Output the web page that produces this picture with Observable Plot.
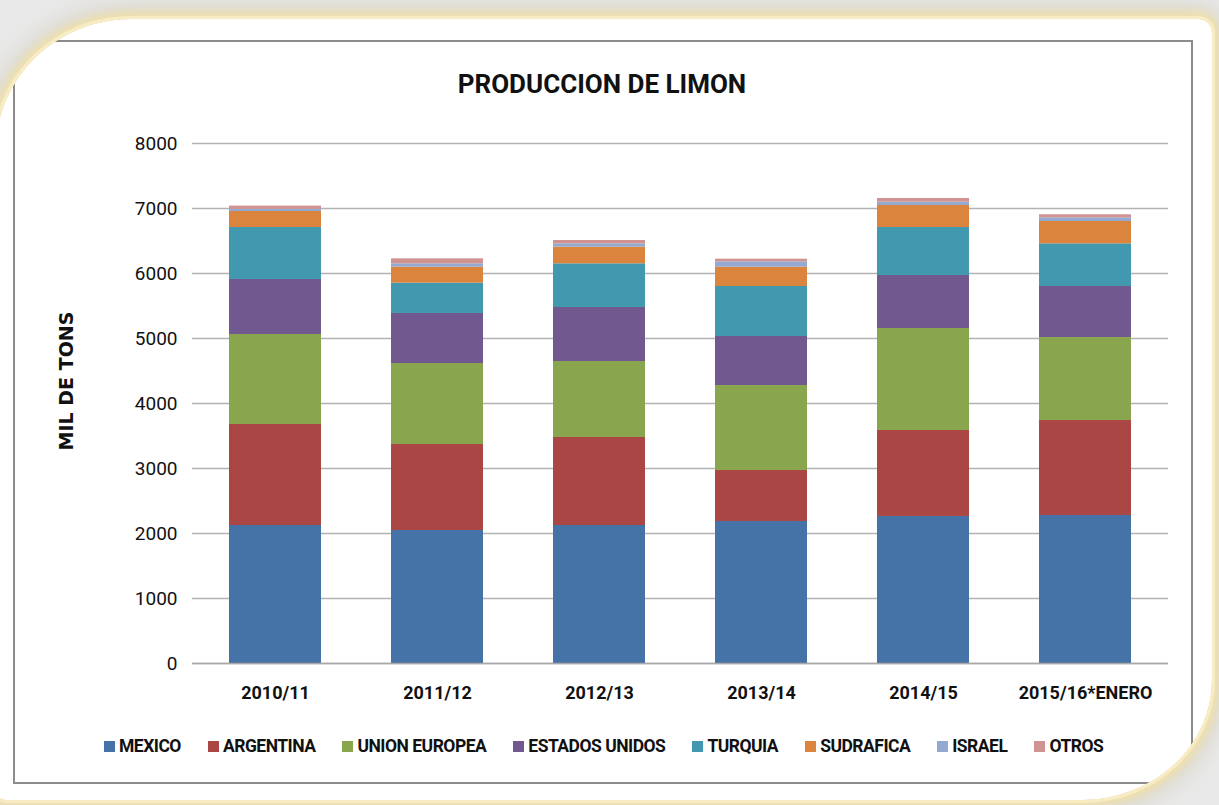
<!DOCTYPE html>
<html>
<head>
<meta charset="utf-8">
<script src="https://cdn.jsdelivr.net/npm/d3@7"></script>
<script src="https://cdn.jsdelivr.net/npm/@observablehq/plot@0.6"></script>
<style>
  html, body { margin: 0; padding: 0; background: #ececec; }
  #wrap { position: relative; width: 1219px; height: 805px; overflow: hidden; background: #ffffff; font-family: Roboto, sans-serif; }
  #grayrect { position: absolute; left: 13px; top: 40px; width: 1176px; height: 740px; border: 2px solid #8c8c8c; }
  #chart { position: absolute; left: 0; top: 0; }
  #frame { position: absolute; left: -4px; top: 19px; width: 1216px; height: 781px;
    border-radius: 135px 14px 130px 10px / 130px 14px 120px 10px;
    box-shadow: 0 0 0 3px #f8ecc4, 0 0 10px 7px #f3e2a8, 0 0 22px 14px #d9d6cc, 0 0 0 200px #e9e9e9;
    pointer-events: none; }
  #title { position: absolute; left: 0; width: 1204px; top: 69px; line-height: 30px; text-align: center;
    font-family: Roboto, sans-serif; font-weight: bold; font-size: 26px; color: #111; }
  #ytitle { position: absolute; left: 66px; top: 381px; transform: translate(-50%, -50%) rotate(-90deg);
    font-family: "DejaVu Sans", sans-serif; font-weight: bold; font-size: 19px; color: #111; white-space: nowrap; }
  #legend { position: absolute; left: 104px; top: 735px; height: 22px; display: flex; align-items: center; gap: 27px;
    font-family: Roboto, sans-serif; font-weight: bold; font-size: 17.5px; letter-spacing: -0.5px; color: #111; }
  .item { display: flex; align-items: center; gap: 4px; white-space: nowrap; }
  .sw { width: 11px; height: 11px; display: inline-block; }
</style>
</head>
<body>
<div id="wrap">
  <div id="grayrect"></div>
  <div id="chart"></div>
  <div id="title">PRODUCCION DE LIMON</div>
  <div id="ytitle">MIL DE TONS</div>
  <div id="legend"></div>
  <div id="frame"></div>
</div>
<script>
const years = ["2010/11", "2011/12", "2012/13", "2013/14", "2014/15", "2015/16*ENERO"];
const countries = ["MEXICO", "ARGENTINA", "UNION EUROPEA", "ESTADOS UNIDOS", "TURQUIA", "SUDRAFICA", "ISRAEL", "OTROS"];
const colors = ["#4572a7", "#aa4643", "#89a54e", "#71588f", "#4198af", "#db843d", "#93a9cf", "#d19392"];
const yTicks = [0, 1000, 2000, 3000, 4000, 5000, 6000, 7000, 8000];

const mexico        = [2123, 2046, 2123, 2185, 2262, 2277];
const argentina     = [1554, 1323, 1354,  784, 1323, 1461];
const unionEuropea  = [1385, 1246, 1169, 1308, 1569, 1277];
const estadosUnidos = [ 846,  770,  831,  754,  815,  785];
const turquia       = [ 800,  466,  672,  769,  739,  656];
const sudrafica     = [ 246,  246,  256,  297,  338,  344];
const israel        = [  33,   52,   51,   82,   52,   56];
const otros         = [  50,   77,   52,   41,   56,   47];

const series = [mexico, argentina, unionEuropea, estadosUnidos, turquia, sudrafica, israel, otros];
const data = [];
countries.forEach((c, i) => years.forEach((y, j) => data.push({year: y, country: c, value: series[i][j]})));

const chart = Plot.plot({
  width: 1219,
  height: 805,
  marginTop: 143,
  marginBottom: 142,
  marginLeft: 192,
  marginRight: 51,
  style: {fontFamily: "Roboto, sans-serif", background: "transparent", color: "#111", overflow: "visible"},
  x: {domain: years, paddingInner: 0.43, paddingOuter: 0.215, label: null},
  y: {domain: [0, 8000], label: null},
  color: {domain: countries, range: colors},
  marks: [
    Plot.gridY(yTicks, {stroke: "#b3b3b3", strokeOpacity: 1, strokeWidth: 1.5}),
    Plot.barY(data, {x: "year", y: "value", fill: "country", order: countries}),
    Plot.ruleY([0], {stroke: "#a8a8a8", strokeWidth: 1.5}),
    Plot.axisX({tickSize: 0, tickPadding: 23, fontSize: 18, fontWeight: "bold", label: null}),
    Plot.axisY(yTicks, {tickSize: 0, tickPadding: 15, fontSize: 19, label: null, tickFormat: d => String(d)})
  ]
});
document.getElementById("chart").appendChild(chart);

const legend = document.getElementById("legend");
countries.forEach((c, i) => {
  const item = document.createElement("div");
  item.className = "item";
  const sw = document.createElement("span");
  sw.className = "sw";
  sw.style.background = colors[i];
  const t = document.createElement("span");
  t.textContent = c;
  item.appendChild(sw);
  item.appendChild(t);
  legend.appendChild(item);
});
</script>
</body>
</html>
